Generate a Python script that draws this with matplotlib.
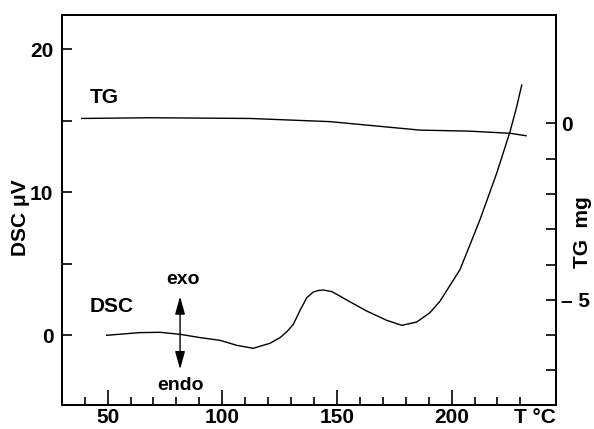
import matplotlib.pyplot as plt
from matplotlib.transforms import blended_transform_factory

# DSC curve (left axis, μV)
temp_dsc = [49.6, 64.1, 72.9, 81.6, 90.3, 99.0, 106.3, 113.5, 120.8, 125.2,
            128.3, 131.0, 134.0, 136.8, 139.6, 141.9, 144.1, 147.8, 151.4,
            154.3, 163.0, 171.7, 178.3, 184.8, 190.6, 195.0, 203.7, 212.4,
            219.7, 225.5, 228.4, 230.6]
dsc_uv = [-0.02, 0.17, 0.19, 0.05, -0.18, -0.37, -0.72, -0.93, -0.58, -0.18,
          0.25, 0.75, 1.75, 2.6, 3.0, 3.12, 3.15, 3.04, 2.72,
          2.45, 1.68, 1.03, 0.68, 0.91, 1.57, 2.38, 4.59, 8.08,
          11.34, 14.24, 15.99, 17.5]

# TG curve (right axis, mg)
temp_tg = [38.7, 68.5, 112.1, 147.0, 186.2, 208.0, 225.5, 232.5]
tg_mg = [0.14, 0.16, 0.14, 0.05, -0.19, -0.22, -0.28, -0.35]

x_major = [50, 100, 150, 200]
x_minor = [40, 60, 70, 80, 90, 110, 120, 130, 140, 160, 170, 180, 190, 210, 220, 230]
dsc_major = [0, 10, 20]
dsc_minor = [5, 15]
tg_major = [0, -5]
tg_labels = ["0", "\u2013 5"]
tg_minor = [-1, -2, -3, -4, -6, -7]

plt.rcParams["font.family"] = ["Liberation Sans", "DejaVu Sans"]
plt.rcParams["font.weight"] = "bold"
plt.rcParams["axes.linewidth"] = 1.4

fig = plt.figure(figsize=(5.94, 4.29), dpi=100)
ax = fig.add_axes([0.1039, 0.0559, 0.8316, 0.909])
ax.plot(temp_dsc, dsc_uv, color="black", linewidth=1.0)
ax.set_xlim(30, 245.4)
ax.set_ylim(-4.9, 22.4)

ax.set_xticks(x_major)
ax.set_xticks(x_minor, minor=True)
ax.set_yticks(dsc_major)
ax.set_yticks(dsc_minor, minor=True)
ax.tick_params(axis="x", which="major", direction="in", length=11, width=1.2,
               labelsize=15, pad=2)
ax.tick_params(axis="x", which="minor", direction="in", length=6, width=1.2)
ax.tick_params(axis="y", which="both", direction="in", length=7, width=1.2,
               labelsize=15, pad=6)
ax.set_ylabel("DSC \u03bcV", fontsize=15, fontweight="bold")
ax.yaxis.set_label_coords(-0.064, 0.48)

ax2 = ax.twinx()
ax2.plot(temp_tg, tg_mg, color="black", linewidth=1.0)
ax2.set_ylim(-7.98, 3.07)
ax2.set_yticks(tg_major)
ax2.set_yticklabels(tg_labels)
ax2.set_yticks(tg_minor, minor=True)
ax2.tick_params(axis="y", which="both", direction="in", length=7, width=1.2,
                labelsize=15, pad=4)
ax2.set_ylabel("TG  mg", fontsize=15, fontweight="bold")
ax2.yaxis.set_label_coords(1.035, 0.444)

trans = blended_transform_factory(ax.transData, ax.transAxes)
ax.text(236.4, -0.008, "T \u00b0C", transform=trans, ha="center", va="top",
        fontsize=15, fontweight="bold")

ax.text(48.5, 16.6, "TG", ha="center", va="center", fontsize=15, fontweight="bold")
ax.text(51.7, 2.0, "DSC", ha="center", va="center", fontsize=15, fontweight="bold")
ax.text(83.0, 3.9, "exo", ha="center", va="center", fontsize=14, fontweight="bold")
ax.text(81.6, -3.55, "endo", ha="center", va="center", fontsize=14, fontweight="bold")
ax.annotate("", xy=(81.6, 2.7), xytext=(81.6, -2.4),
            arrowprops=dict(arrowstyle="<|-|>,head_length=0.9,head_width=0.25",
                            color="black", lw=1.0, mutation_scale=12,
                            shrinkA=0, shrinkB=0))

fig.savefig("out.png", dpi=100)
